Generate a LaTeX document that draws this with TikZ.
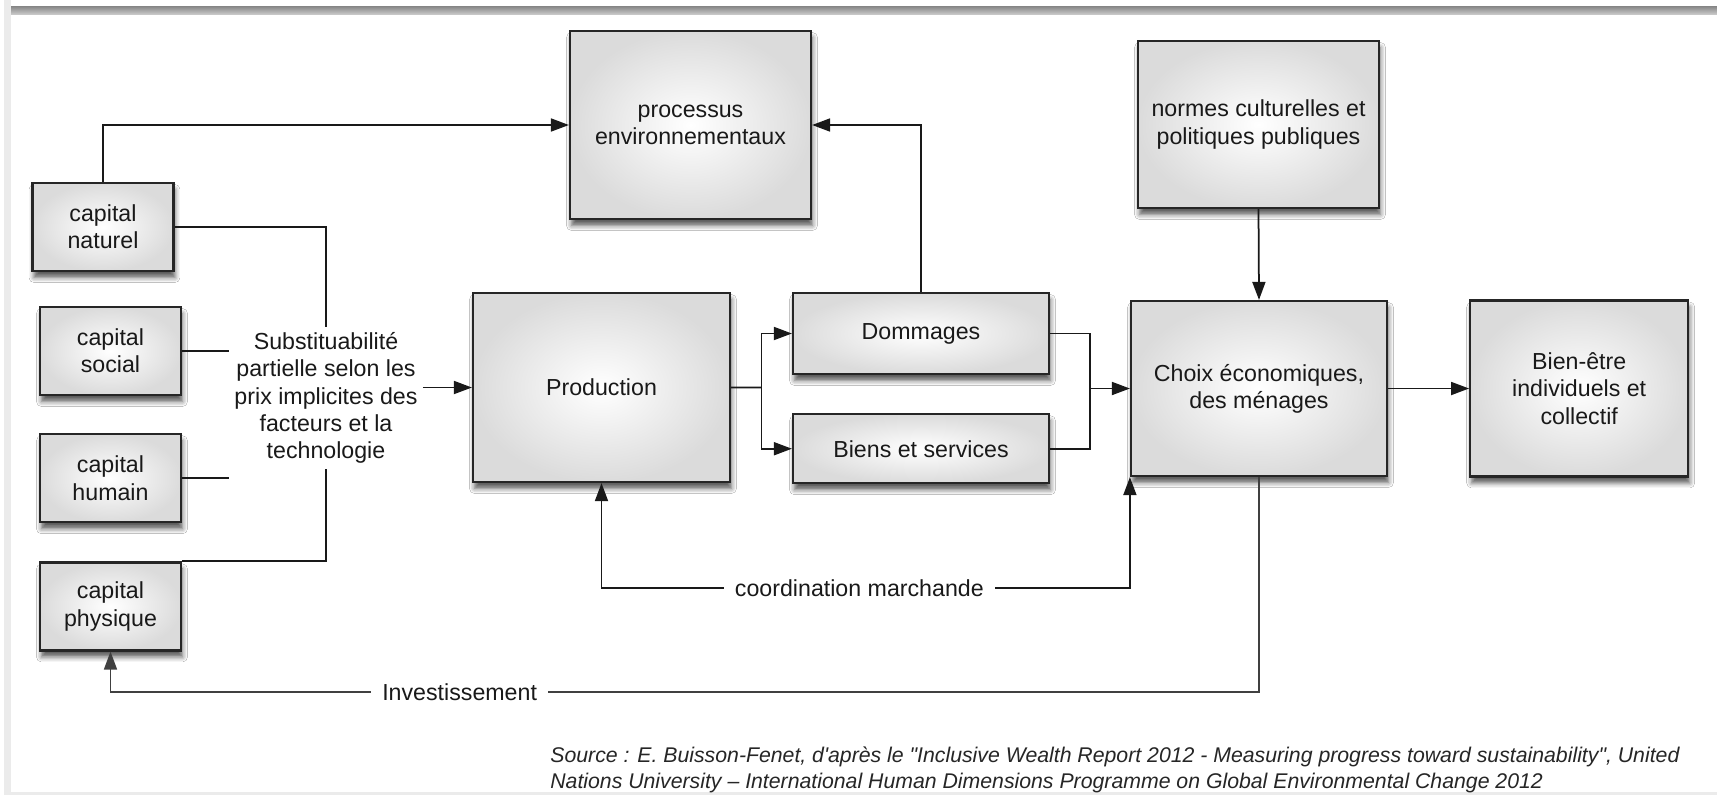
\documentclass[tikz,border=0pt]{standalone}
\usepackage{fontspec}
\setmainfont{Liberation Sans}
\newfontfamily\srcfont{Liberation Sans}
\usetikzlibrary{arrows.meta,positioning,calc,shadows.blur}

\begin{document}
\begin{tikzpicture}[
    x=0.02cm, y=-0.02cm,
    font=\fontsize{13.2}{15.5}\selectfont,
    block/.style={rectangle, draw=black!85, line width=0.045cm, inner color=white, outer color=black!14, align=center, text=black!90,
        blur shadow={shadow xshift=0.03cm, shadow yshift=-0.13cm, shadow blur radius=0.1cm, shadow opacity=65}},
    asset/.style={block, minimum width=2.82cm, minimum height=1.76cm},
    link/.style={line width=0.035cm, black!90},
    flow/.style={link, -{Triangle[length=0.36cm, width=0.26cm]}},
    twoway/.style={link, {Triangle[length=0.36cm, width=0.26cm]}-{Triangle[length=0.36cm, width=0.26cm]}},
    gap/.style={fill=white, inner xsep=0.22cm, inner ysep=0.05cm, text=black!90},
]
    \useasboundingbox (0,0) rectangle (1717,795);
    \fill[white] (0,0) rectangle (1717,795);
    % frame of the page
    \fill[black!8] (4,0) rectangle (11,795);
    \fill[black!8] (11,792) rectangle (1717,795);
    \shade[top color=black!48, bottom color=black!22] (11,6) rectangle (1717,14);

    % capitals
    \node[asset] (nat) at (103,227) {capital\\naturel};
    \node[asset] (soc) at (110.5,351) {capital\\social};
    \node[asset, below=0.74cm of soc] (hum) {capital\\humain};
    \node[asset, below=0.76cm of hum] (phy) {capital\\physique};
    \node[align=center, inner sep=0.1cm, text=black!90] (subst) at (326,398)
        {Substituabilité\\partielle selon les\\prix implicites des\\facteurs et la\\technologie};

    % main blocks
    \node[block, minimum width=4.82cm, minimum height=3.76cm] (proc) at (690.5,125) {processus\\environnementaux};
    \node[block, minimum width=4.82cm, minimum height=3.34cm] (norm) at (1258.5,124.5) {normes culturelles et\\politiques publiques};
    \node[block, minimum width=5.14cm, minimum height=3.78cm] (prod) at (601.5,387.5) {Production};
    \node[block, minimum width=5.12cm, minimum height=1.62cm] (dom) at (921,333.5) {Dommages};
    \node[block, minimum width=5.12cm, minimum height=1.38cm, below=0.76cm of dom] (biens) {Biens et services};
    \node[block, minimum width=5.12cm, minimum height=3.5cm] (choix) at (1259,388.5) {Choix économiques,\\des ménages};
    \node[block, minimum width=4.36cm, minimum height=3.52cm, right=1.62cm of choix] (bienetre) {Bien-être\\individuels et\\collectif};

    % connectors
    \draw[flow] (nat.north) |- (proc.west);
    \draw[link] (nat.east) -| (subst.north);
    \draw[link] (soc.east) -- (soc.east -| subst.west);
    \draw[link] (hum.east) -- (hum.east -| subst.west);
    \draw[link] (phy.north east) -| (subst.south);
    \draw[flow] (subst.east |- prod.west) -- (prod.west);

    \coordinate (fork) at ($(prod.east)!0.5!(dom.west |- prod.east)$);
    \draw[link] (prod.east) -- (fork);
    \draw[flow] (fork) |- (dom.west);
    \draw[flow] (fork) |- (biens.west);
    \draw[flow] (dom.north) |- (proc.east);

    \coordinate (join) at ($(dom.east |- choix.west)!0.5!(choix.west)$);
    \draw[link] (dom.east) -| (join) |- (biens.east);
    \draw[flow] (join) -- (choix.west);
    \draw[flow] (norm.south) -- (choix.north);
    \draw[flow] (choix.east) -- (bienetre.west);

    \draw[twoway] (prod.south) -- ++(0,105) -| node[gap, pos=0.244] {coordination marchande} (choix.south west);
    \draw[flow, black!75] (choix.south) -- ++(0,215) -| node[gap, pos=0.348] {Investissement} (phy.south);

    % source
    \node[anchor=west, align=left, inner sep=0pt, font=\srcfont\itshape\fontsize{12.1}{14.8}\selectfont, text=black!85] (src) at (550,770)
        {Source : E. Buisson-Fenet, d'après le "Inclusive Wealth Report 2012 - Measuring progress toward sustainability", United\\
         Nations University – International Human Dimensions Programme on Global Environmental Change 2012};
\end{tikzpicture}
\end{document}
